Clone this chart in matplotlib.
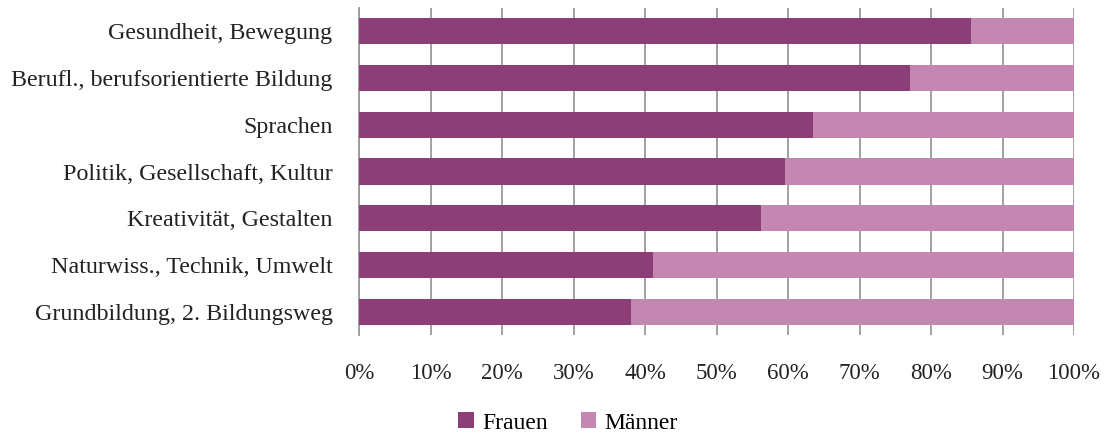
import matplotlib
matplotlib.use("Agg")
import matplotlib.pyplot as plt
import numpy as np

# ------------------------------------------------------------ data
categories = ["Gesundheit, Bewegung", "Berufl., berufsorientierte Bildung",
              "Sprachen", "Politik, Gesellschaft, Kultur",
              "Kreativität, Gestalten", "Naturwiss., Technik, Umwelt",
              "Grundbildung, 2. Bildungsweg"]
frauen = [85.6, 77.0, 63.5, 59.6, 56.2, 41.1, 38.0]
maenner = [100 - v for v in frauen]
xticks = list(range(0, 101, 10))
xticklabels = [f"{t}%" for t in xticks]

C_F = "#8C3F77"
C_M = "#C387B2"
GRID = "#9a9a9a"

plt.rcParams["font.family"] = ["Liberation Serif", "DejaVu Serif"]

fig = plt.figure(figsize=(11.17, 4.36), dpi=100)
ax = fig.add_axes([359 / 1117, 1 - 335 / 436, 715 / 1117, 327 / 436])

y = np.arange(len(categories))[::-1]
ax.barh(y, frauen, height=0.56, color=C_F, label="Frauen", zorder=3)
ax.barh(y, maenner, left=frauen, height=0.56, color=C_M, label="Männer", zorder=3)

ax.set_xlim(0, 100)
ax.set_ylim(-0.5, len(categories) - 0.5)
ax.set_yticks(y)
ax.set_yticklabels(categories, fontsize=17.3, color="#222222")
ax.set_xticks(xticks)
ax.set_xticklabels(xticklabels, fontsize=16.5, color="#222222")
ax.tick_params(axis="y", length=0, pad=19)
ax.tick_params(axis="x", length=0, pad=20)
ax.grid(axis="x", color=GRID, linewidth=1.3, zorder=0)
for s in ["top", "right", "bottom"]:
    ax.spines[s].set_visible(False)
ax.spines["left"].set_color(GRID)
ax.spines["left"].set_linewidth(1.3)

fig.legend(loc="center", bbox_to_anchor=(568 / 1117, 1 - 423 / 436), ncol=2,
           frameon=False, fontsize=17, handlelength=0.65, handleheight=0.65,
           handletextpad=0.35, columnspacing=1.4)

fig.savefig("out.png", dpi=100)
